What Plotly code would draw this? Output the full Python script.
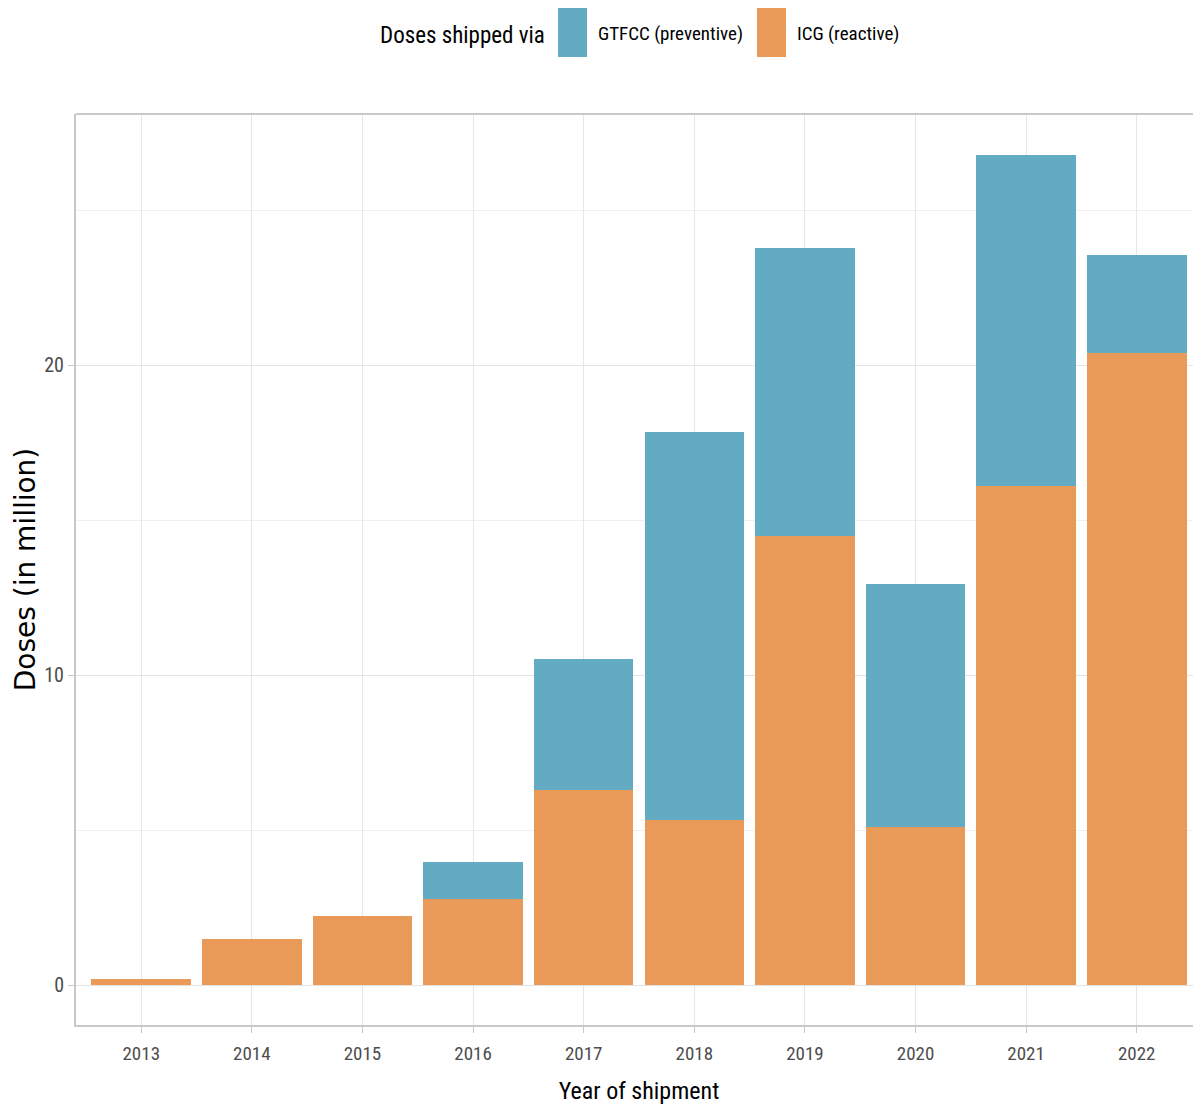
import plotly.graph_objects as go

years = [2013, 2014, 2015, 2016, 2017, 2018, 2019, 2020, 2021, 2022]
icg_reactive = [0.2, 1.48, 2.23, 2.77, 6.29, 5.32, 14.48, 5.10, 16.10, 20.39]
gtfcc_preventive = [0.0, 0.0, 0.0, 1.20, 4.23, 12.52, 9.29, 7.84, 10.67, 3.16]
y_ticks = [0, 10, 20]

BLUE = "#63AAC3"
ORANGE = "#E99A58"
NARROW = "Liberation Sans Narrow, Arial Narrow, Roboto Condensed, sans-serif"

# page offset of 8px (body margin) compensated in margins
W, H = 1194, 1103
L, R, T, B = 68, 0, 106, 86
PW, PH = W - L - R, H - T - B

fig = go.Figure()
fig.add_trace(go.Bar(x=years, y=icg_reactive, name="ICG (reactive)",
                     marker=dict(color=ORANGE, line=dict(width=0)),
                     width=0.9, showlegend=False))
fig.add_trace(go.Bar(x=years, y=gtfcc_preventive, name="GTFCC (preventive)",
                     marker=dict(color=BLUE, line=dict(width=0)),
                     width=0.9, showlegend=False))

fig.update_layout(
    barmode="stack",
    width=W, height=H,
    margin=dict(l=L, r=R, t=T, b=B),
    plot_bgcolor="white", paper_bgcolor="white",
    font=dict(family=NARROW, color="#4d4d4d", size=18),
)
fig.update_xaxes(
    range=[2012.41, 2022.59],
    tickvals=years, ticktext=[str(y) for y in years],
    showgrid=True, gridcolor="#e6e6e6", gridwidth=1,
    ticks="outside", ticklen=6, tickcolor="#c8c8c8", tickwidth=1,
    ticklabelstandoff=4,
    showline=True, linecolor="#c8c8c8", linewidth=2, mirror=False,
    zeroline=False,
    tickfont=dict(family=NARROW, size=19, color="#4d4d4d"),
    title=dict(text="Year of shipment", font=dict(family=NARROW, size=24, color="black"), standoff=18),
)
fig.update_yaxes(
    range=[-1.29, 28.1],
    tickvals=y_ticks,
    showgrid=True, gridcolor="#e3e3e3", gridwidth=1.2,
    minor=dict(tickvals=[5, 15, 25], showgrid=True, gridcolor="#efefef", gridwidth=1),
    ticks="outside", ticklen=6, tickcolor="#c8c8c8", tickwidth=1,
    showline=True, linecolor="#c8c8c8", linewidth=2, mirror=False,
    zeroline=False,
    tickfont=dict(family=NARROW, size=20, color="#4d4d4d"),
    title=dict(text="Doses (in million)", font=dict(family="DejaVu Sans, Liberation Sans, sans-serif", size=28, color="black"), standoff=0),
)

# top border of panel
fig.add_shape(type="line", xref="paper", yref="paper", x0=0, x1=1, y0=1, y1=1,
              line=dict(color="#c8c8c8", width=2))

def px_x(px):
    return (px - 8 - L) / PW

def px_y(py):
    return 1 + (T + 8 - py) / PH

# custom legend (swatches + real text)
fig.add_annotation(xref="paper", yref="paper", x=px_x(547), y=px_y(35),
                   xanchor="right", yanchor="middle", showarrow=False,
                   text="Doses shipped via", font=dict(family=NARROW, size=23, color="black"))
legend_items = [("GTFCC (preventive)", BLUE, 558), ("ICG (reactive)", ORANGE, 757)]
for label, color, px in legend_items:
    fig.add_shape(type="rect", xref="paper", yref="paper",
                  x0=px_x(px), x1=px_x(px + 29),
                  y0=px_y(57), y1=px_y(8),
                  fillcolor=color, line=dict(width=0))
    fig.add_annotation(xref="paper", yref="paper", x=px_x(px + 38), y=px_y(34),
                       xanchor="left", yanchor="middle", showarrow=False,
                       text=label, font=dict(family=NARROW, size=19, color="black"))

fig.write_html("out.html")
